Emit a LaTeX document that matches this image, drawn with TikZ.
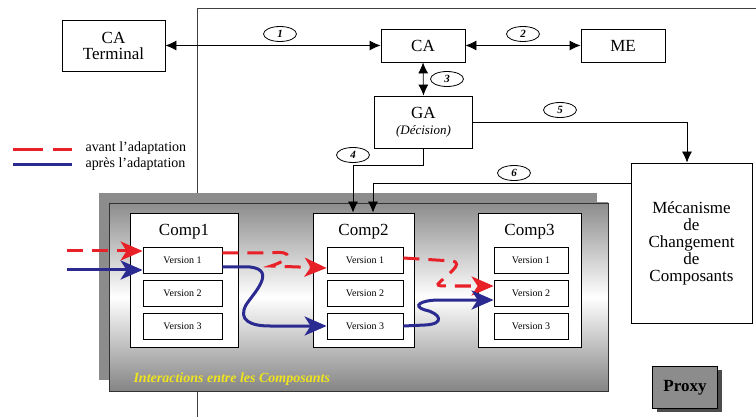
\documentclass[tikz,border=0pt]{standalone}
\usepackage{fontspec}
\setmainfont{Liberation Serif}
\usepackage{tikz}
\usetikzlibrary{arrows.meta, shapes.geometric}

\definecolor{adapred}{RGB}{232,32,40}
\definecolor{adapblue}{RGB}{42,42,145}
\definecolor{titleyellow}{RGB}{240,228,30}

\tikzset{
  blockbox/.style={draw, line width=0.8pt, fill=white, align=center, inner sep=1pt,
                   font=\fontsize{17}{19}\selectfont},
  versbox/.style={draw, line width=0.8pt, fill=white, minimum width=#1, minimum height=26pt,
                  inner sep=0pt, font=\fontsize{10}{12}\selectfont},
  numlabel/.style={draw, ellipse, line width=0.8pt, fill=white, minimum width=33pt, minimum height=15pt,
                   inner sep=0pt, font=\fontsize{11}{12}\selectfont\bfseries\itshape},
  link/.style={line width=0.8pt, -{Latex[length=11pt,width=10pt]}},
  dlink/.style={line width=0.8pt, {Latex[length=11pt,width=10pt]}-{Latex[length=11pt,width=10pt]}},
  avant/.style={adapred, line width=3pt, dash pattern=on 16pt off 9pt,
                -{Stealth[length=22pt,width=19pt,inset=6pt]}},
  apres/.style={adapblue, line width=3pt, -{Stealth[length=22pt,width=19pt,inset=6pt]}},
}

\begin{document}
\begin{tikzpicture}[x=1pt, y=-1pt]
\useasboundingbox (0,0) rectangle (756,417);
% frame behind everything
\draw[line width=1pt, black!75] (197,417) -- (197,9) -- (756,9);

% top part
\node[blockbox, minimum width=103pt, minimum height=51pt] (caterm) at (113.5,45.5) {CA\\[-3pt]Terminal};
\node[blockbox, minimum width=84pt, minimum height=33pt] (ca) at (423,45.5) {CA};
\node[blockbox, minimum width=84pt, minimum height=33pt] (me) at (623,45.5) {ME};
\node[blockbox, minimum width=98pt, minimum height=52pt] (ga) at (423.5,122)
     {GA\\[-3pt]{\fontsize{13}{15}\selectfont\itshape (Décision)}};
\node[blockbox, minimum width=121pt, minimum height=160pt] (meca) at (691.5,243)
     {Mécanisme\\[-2pt]de\\[-2pt]Changement\\[-2pt]de\\[-2pt]Composants};

\draw[dlink] (caterm.east) -- (ca.west);
\draw[dlink] (ca.east) -- (me.west);
\draw[dlink] (ca.south) -- (ga.north);
\draw[link] (ga.east) -| ([xshift=-4.5pt]meca.north);

% component panel
\fill[black!45] (99,193) rectangle (597,380);
\shade[top color=black!45, bottom color=black!48, middle color=white] (109,203) rectangle (608,391);
\draw[line width=0.8pt, black!80] (109,203) rectangle (608,391);
\node[anchor=west, text=titleyellow, font=\fontsize{14}{16}\selectfont\bfseries\itshape]
     (inter) at (130,379) {Interactions entre les Composants};

\node[blockbox, minimum width=108pt, minimum height=134pt] (comp1) at (184,280) {};
\node[blockbox, minimum width=101pt, minimum height=134pt] (comp2) at (363.5,280) {};
\node[blockbox, minimum width=103pt, minimum height=134pt] (comp3) at (529.5,280) {};
\node[font=\fontsize{17}{19}\selectfont] (t1) at (184,232) {Comp1};
\node[font=\fontsize{17}{19}\selectfont] (t2) at (363.5,232) {Comp2};
\node[font=\fontsize{17}{19}\selectfont] (t3) at (529.5,232) {Comp3};

\foreach \v/\y in {1/260, 2/293, 3/326} {
  \node[versbox=79pt] (c1v\v) at (182.5,\y) {Version \v};
  \node[versbox=76pt] (c2v\v) at (365,\y) {Version \v};
  \node[versbox=74pt] (c3v\v) at (531,\y) {Version \v};
}

\draw[link] (ga.south) -- ++(0,17) -| ([xshift=-10.5pt]comp2.north);
\draw[link] ([yshift=60pt]meca.west) -| ([xshift=9.5pt]comp2.north);

% ellipse numbers
\node[numlabel] (n1) at (280,34) {1};
\node[numlabel] (n2) at (523,34) {2};
\node[numlabel] (n3) at (447,79) {3};
\node[numlabel] (n4) at (353,155) {4};
\node[numlabel] (n5) at (560,110) {5};
\node[numlabel] (n6) at (514,173) {6};

% legend
\coordinate (la) at (13,150);
\coordinate (lb) at (72,150);
\coordinate (lc) at (13,165);
\coordinate (ld) at (72,165);
\draw[adapred, line width=3pt, dash pattern=on 30pt off 10pt] (la) -- (lb);
\draw[adapblue, line width=3pt] (lc) -- (ld);
\node[anchor=west, font=\fontsize{14}{16}\selectfont] (leg1) at (82,148) {avant l’adaptation};
\node[anchor=west, font=\fontsize{14}{16}\selectfont] (leg2) at (82,164) {après l’adaptation};

% paths before adaptation
\coordinate (rin) at (67,251);
\draw[avant] (rin) -- ([yshift=9pt]c1v1.west);
\draw[avant] ([yshift=7pt]c1v1.east) -- (270,253) .. controls (296,250) and (290,260) .. (271,266)
      -- ([yshift=-8pt]c2v1.west);
\draw[avant] ([yshift=2pt]c2v1.east) -- (452,261) .. controls (466,263) and (444,277) .. (438,284)
      .. controls (438,286) .. (455,286) -- ([yshift=7pt]c3v2.west);

% paths after adaptation
\coordinate (bin) at (67,270);
\draw[apres] (bin) -- ([yshift=-10pt]c1v1.west);
\draw[apres] ([yshift=-7pt]c1v1.east) -- (250,267) .. controls (278,270) and (252,295) .. (246,305)
      .. controls (238,320) and (250,326) .. (270,326) -- (c2v3.west);
\draw[apres] (c2v3.east) -- (425,325) .. controls (446,324) and (440,313) .. (425,310)
      .. controls (412,306) and (420,300) .. (440,300) -- ([yshift=-7pt]c3v2.west);

% proxy
\fill[black!70] (657,370) rectangle (722,412);
\node[draw, line width=0.8pt, fill=black!45, minimum width=65pt, minimum height=42pt,
      font=\fontsize{17}{19}\selectfont\bfseries] (proxy) at (685,387.5) {Proxy};
\end{tikzpicture}
\end{document}
